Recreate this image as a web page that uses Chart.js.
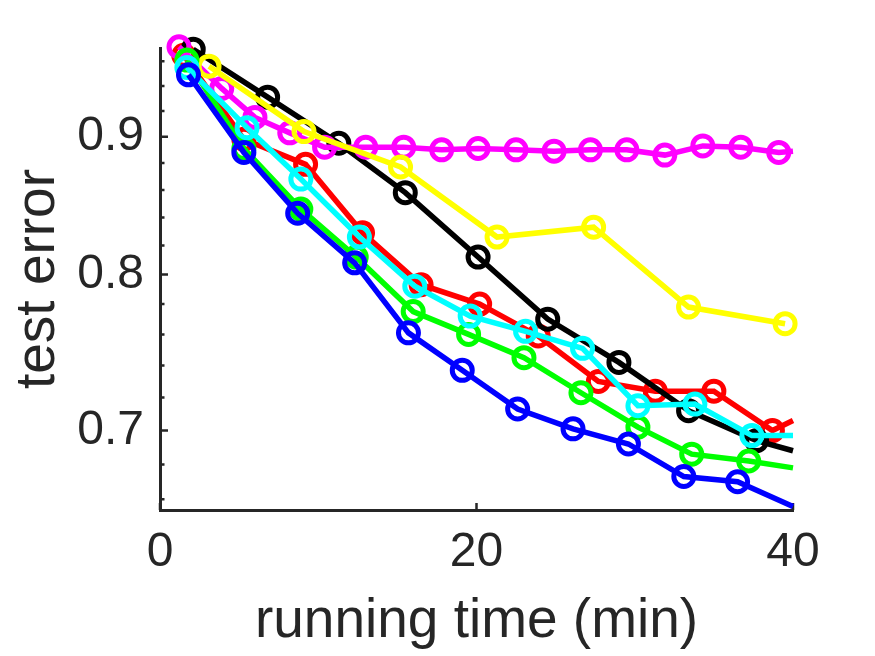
<!DOCTYPE html>
<html>
<head>
<meta charset="utf-8">
<script src="https://cdn.jsdelivr.net/npm/chart.js@4"></script>
<style>
  html, body { margin: 0; padding: 0; background: #fff; }
</style>
</head>
<body>
<canvas id="chart" width="875" height="656"></canvas>
<script>
// axis ticks
const xTicks = [0, 20, 40];
const yTicks = [0.7, 0.8, 0.9];
const yMinorTicks = [0.66, 0.68, 0.72, 0.74, 0.76, 0.78, 0.82, 0.84, 0.86, 0.88, 0.92, 0.94, 0.96];

// series (x = running time in min, y = test error), "End" = where the line leaves the plot at x=40
const magentaX = [1.2, 3.9, 6.0, 8.2, 10.4, 13.0, 15.4, 17.8, 20.1, 22.5, 24.9, 27.2, 29.5, 31.9, 34.3, 36.7, 39.1];
const magentaY = [0.972, 0.938, 0.915, 0.903, 0.892, 0.892, 0.892, 0.890, 0.891, 0.890, 0.889, 0.890, 0.890, 0.886, 0.893, 0.892, 0.888];
const magentaEnd = 0.889;

const blackX = [2.1, 6.8, 11.3, 15.5, 20.1, 24.5, 29.0, 33.4, 37.7];
const blackY = [0.970, 0.931, 0.895, 0.858, 0.812, 0.770, 0.742, 0.712, 0.694];
const blackEnd = 0.688;

const yellowX = [3.1, 9.1, 15.2, 21.3, 27.4, 33.4, 39.5];
const yellowY = [0.956, 0.904, 0.877, 0.826, 0.833, 0.778, 0.767];

const redX = [1.5, 5.3, 9.2, 12.8, 16.5, 20.2, 23.9, 27.7, 31.3, 35.0, 38.7];
const redY = [0.965, 0.898, 0.879, 0.829, 0.793, 0.780, 0.759, 0.730, 0.724, 0.724, 0.700];
const redEnd = 0.706;

const cyanX = [1.7, 5.5, 8.9, 12.6, 16.1, 19.6, 23.1, 26.7, 30.2, 33.8, 37.4];
const cyanY = [0.955, 0.907, 0.868, 0.826, 0.792, 0.772, 0.762, 0.751, 0.715, 0.716, 0.697];
const cyanEnd = 0.697;

const greenX = [1.7, 5.3, 8.9, 12.4, 16.0, 19.5, 23.0, 26.6, 30.2, 33.6, 37.2];
const greenY = [0.961, 0.891, 0.846, 0.812, 0.775, 0.760, 0.745, 0.723, 0.702, 0.686, 0.682];
const greenEnd = 0.678;

const blueX = [1.8, 5.3, 8.7, 12.3, 15.7, 19.1, 22.6, 26.1, 29.6, 33.1, 36.5];
const blueY = [0.949, 0.888, 0.843, 0.808, 0.761, 0.737, 0.713, 0.701, 0.692, 0.673, 0.670];
const blueEnd = 0.656;

const FONT = "'Liberation Sans', Arial, Helvetica, sans-serif";
const INK = '#262626';

function series(color, xs, ys, end) {
  const pts = xs.map((x, i) => ({ x: x, y: ys[i] }));
  const hasEnd = end !== undefined;
  if (hasEnd) pts.push({ x: 40, y: end });
  return {
    data: pts,
    borderColor: color,
    backgroundColor: 'rgba(0,0,0,0)',
    borderWidth: 5.5,
    pointRadius: (ctx) => (hasEnd && ctx.dataIndex === xs.length) ? 0 : 10,
    pointBorderWidth: 5,
    pointBorderColor: color,
    pointBackgroundColor: 'rgba(0,0,0,0)',
    tension: 0,
    clip: false
  };
}

// MATLAB style ticks pointing into the plot
const innerTicks = {
  id: 'innerTicks',
  beforeDatasetsDraw(chart) {
    const { ctx, chartArea: a, scales: { x, y } } = chart;
    ctx.save();
    ctx.strokeStyle = INK;
    ctx.lineWidth = 2.5;
    ctx.beginPath();
    yTicks.forEach(v => {
      const py = y.getPixelForValue(v);
      ctx.moveTo(a.left, py); ctx.lineTo(a.left + 8, py);
    });
    yMinorTicks.forEach(v => {
      const py = y.getPixelForValue(v);
      ctx.moveTo(a.left, py); ctx.lineTo(a.left + 4.5, py);
    });
    xTicks.forEach(v => {
      const px = x.getPixelForValue(v);
      ctx.moveTo(px, a.bottom); ctx.lineTo(px, a.bottom - 7);
    });
    ctx.stroke();
    ctx.restore();
  }
};

new Chart(document.getElementById('chart'), {
  type: 'line',
  data: {
    // first dataset is drawn on top
    datasets: [
      series('#0000ff', blueX, blueY, blueEnd),
      series('#00ffff', cyanX, cyanY, cyanEnd),
      series('#00ff00', greenX, greenY, greenEnd),
      series('#ffff00', yellowX, yellowY),
      series('#ff00ff', magentaX, magentaY, magentaEnd),
      series('#000000', blackX, blackY, blackEnd),
      series('#ff0000', redX, redY, redEnd)
    ]
  },
  options: {
    responsive: false,
    animation: false,
    devicePixelRatio: 1,
    layout: { padding: { top: 48, right: 82, left: 0, bottom: 0 } },
    plugins: { legend: { display: false }, tooltip: { enabled: false } },
    scales: {
      x: {
        type: 'linear',
        min: 0,
        max: 40,
        afterBuildTicks: (s) => { s.ticks = xTicks.map(v => ({ value: v })); },
        afterFit: (s) => { s.height = 146; },
        grid: { display: false, drawTicks: false },
        border: { display: true, color: INK, width: 3 },
        ticks: { color: INK, font: { family: FONT, size: 48 }, padding: 14, maxRotation: 0, autoSkip: false },
        title: { display: true, text: 'running time (min)', color: INK, font: { family: FONT, size: 55 }, padding: { top: 0, bottom: 1 } }
      },
      y: {
        type: 'logarithmic',
        min: 0.654,
        max: 0.971,
        afterBuildTicks: (s) => { s.ticks = yTicks.map(v => ({ value: v })); },
        afterFit: (s) => { s.width = 160; },
        grid: { display: false, drawTicks: false },
        border: { display: true, color: INK, width: 3 },
        ticks: { color: INK, font: { family: FONT, size: 48 }, padding: 16, autoSkip: false, callback: (v) => v.toFixed(1) },
        title: { display: true, text: 'test error', color: INK, font: { family: FONT, size: 55 }, padding: { top: 6, bottom: 0 } }
      }
    }
  },
  plugins: [innerTicks]
});
</script>
</body>
</html>
